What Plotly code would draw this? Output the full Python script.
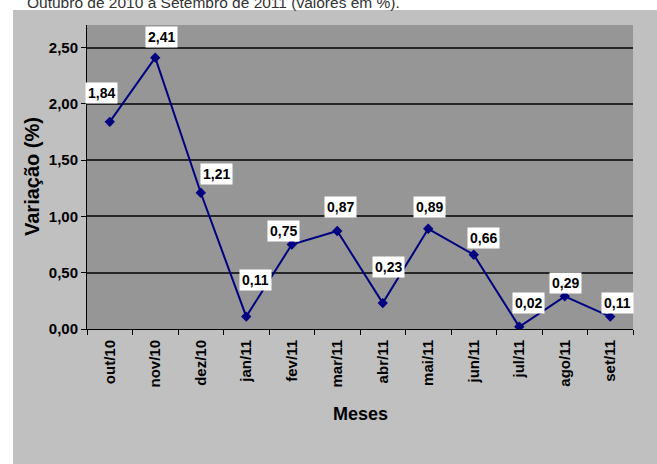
import plotly.graph_objects as go

months = ["out/10", "nov/10", "dez/10", "jan/11", "fev/11", "mar/11",
          "abr/11", "mai/11", "jun/11", "jul/11", "ago/11", "set/11"]
values = [1.84, 2.41, 1.21, 0.11, 0.75, 0.87, 0.23, 0.89, 0.66, 0.02, 0.29, 0.11]

# label offsets in pixels (dx, dy) relative to each point
label_dx = [-8, 6, 16, 9, -8, 3, 6, 1, 10, 9, 1, 7]
label_dy = [29, 21, 19, 37, 14, 24, 36, 22, 17, 24, 13, 14]

W, H = 657, 464
L, R, T, B = 87, 24, 25, 135
pw, ph = W - L - R, H - T - B

FONT = "Liberation Sans, Arial, sans-serif"

fig = go.Figure()
fig.add_trace(go.Scatter(
    x=months, y=values, mode="lines+markers",
    line=dict(color="#000080", width=2),
    marker=dict(symbol="diamond", size=8, color="#000080"),
    hoverinfo="skip", showlegend=False,
))

annotations = []
for m, v, dx, dy in zip(months, values, label_dx, label_dy):
    annotations.append(dict(
        x=m, y=v, xref="x", yref="y", text=f"{v:.2f}".replace(".", ","),
        showarrow=False, xshift=dx, yshift=dy,
        bgcolor="white", borderpad=2,
        font=dict(family=FONT, size=14, color="black", weight="bold"),
    ))

# axis titles
annotations.append(dict(
    x=0.5, y=(329 - 414) / ph, xref="paper", yref="paper", text="<b>Meses</b>",
    showarrow=False, xanchor="center", yanchor="middle",
    font=dict(family=FONT, size=18, color="black"),
))
annotations.append(dict(
    x=(32 - L) / pw, y=0.5, xref="paper", yref="paper", text="<b>Variação (%)</b>",
    showarrow=False, xanchor="center", yanchor="middle", textangle=-90,
    font=dict(family=FONT, size=20, color="black"),
))
# cropped title at top
annotations.append(dict(
    x=(25 - L) / pw, y=1, xref="paper", yref="paper",
    text="Outubro de 2010 a Setembro de 2011 (valores em %).",
    showarrow=False, xanchor="left", yanchor="bottom", yshift=12,
    font=dict(family=FONT, size=15.5, color="#333333"),
))

shapes = [
    dict(type="rect", xref="paper", yref="paper", layer="above",
         x0=-L / pw - 0.01, x1=(W - L) / pw + 0.01,
         y0=1 + (T - 10) / ph, y1=1 + T / ph + 0.05,
         fillcolor="white", line=dict(width=0)),
    dict(type="rect", xref="paper", yref="paper", layer="above",
         x0=-L / pw - 0.01, x1=(13 - L) / pw,
         y0=-B / ph - 0.05, y1=1 + T / ph + 0.05,
         fillcolor="white", line=dict(width=0)),
]

tickfont = dict(family=FONT, size=15, color="black", weight="bold")

fig.update_layout(
    width=W, height=H,
    margin=dict(l=L, r=R, t=T, b=B, pad=0),
    paper_bgcolor="#C0C0C0",
    plot_bgcolor="#969696",
    separators=",.",
    font=dict(family=FONT, color="black"),
    annotations=annotations,
    shapes=shapes,
    xaxis=dict(
        type="category", range=[-0.5, 11.5], tickson="boundaries",
        ticks="outside", ticklen=5, tickcolor="black", tickwidth=1,
        tickangle=-90, tickfont=tickfont, ticklabelstandoff=4,
        showline=True, linecolor="black", linewidth=1,
        showgrid=False, zeroline=False, fixedrange=True,
    ),
    yaxis=dict(
        range=[0, 2.70], tick0=0, dtick=0.5, tickformat=".2f",
        ticks="outside", ticklen=5, tickcolor="black", tickwidth=1,
        tickfont=tickfont,
        showline=True, linecolor="black", linewidth=1,
        showgrid=True, gridcolor="#262626", gridwidth=1.5,
        zeroline=False, fixedrange=True,
    ),
)

fig.write_html(
    "out.html",
    config={"displayModeBar": False},
    post_script="document.body.style.margin='0';document.body.style.overflow='hidden';",
)
